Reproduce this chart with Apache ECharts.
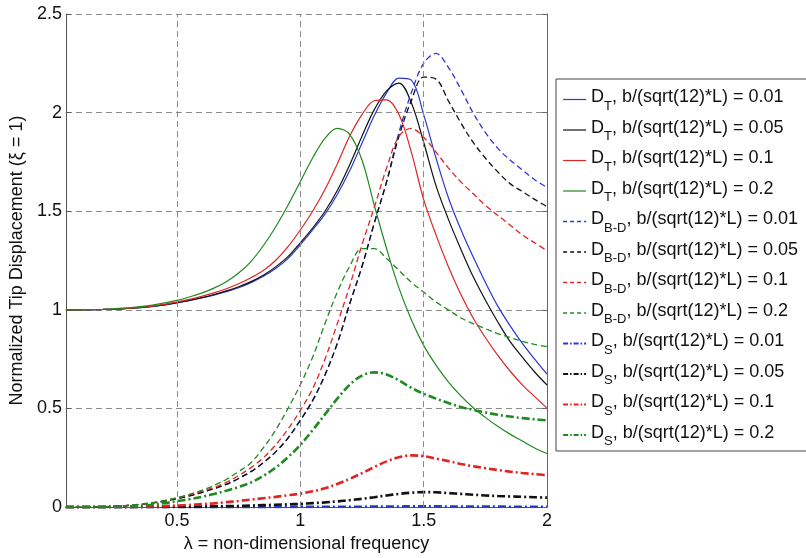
<!DOCTYPE html>
<html>
<head>
<meta charset="utf-8">
<script src="https://cdn.jsdelivr.net/npm/echarts@6/dist/echarts.min.js"></script>
<style>html,body{margin:0;padding:0;background:#fff;}#c{width:806px;height:558px;}</style>
</head>
<body>
<div id="c"></div>
<script>
// non-dimensional frequency lambda
const lambda = [0.05,0.1,0.15,0.2,0.25,0.3,0.35,0.4,0.45,0.5,0.55,0.6,0.65,0.7,0.75,0.8,0.85,0.9,0.95,1.0,
                1.05,1.1,1.15,1.2,1.25,1.3,1.35,1.4,1.45,1.5,1.55,1.6,1.65,1.7,1.75,1.8,1.85,1.9,1.95,2.0];

// D_T (total)
const DT_001 = [1.0,1.0,1.001,1.002,1.004,1.007,1.011,1.017,1.025,1.035,1.047,1.06,1.075,1.092,1.112,1.138,1.17,1.21,1.26,1.33,
                1.405,1.485,1.585,1.705,1.845,1.985,2.1,2.175,2.165,1.99,1.77,1.57,1.41,1.27,1.14,1.02,0.92,0.83,0.75,0.674];
const DT_005 = [1.0,1.0,1.001,1.002,1.004,1.007,1.011,1.017,1.025,1.036,1.048,1.062,1.078,1.096,1.117,1.143,1.176,1.218,1.27,1.34,
                1.415,1.5,1.605,1.735,1.88,2.015,2.11,2.15,2.05,1.85,1.63,1.46,1.31,1.17,1.05,0.94,0.84,0.76,0.685,0.619];
const DT_01  = [1.0,1.0,1.001,1.002,1.004,1.008,1.012,1.019,1.028,1.04,1.053,1.068,1.086,1.107,1.132,1.163,1.2,1.25,1.32,1.405,
                1.5,1.61,1.74,1.88,1.99,2.06,2.065,1.99,1.8,1.56,1.38,1.22,1.08,0.96,0.86,0.77,0.69,0.62,0.56,0.502];
const DT_02  = [1.0,1.0,1.001,1.003,1.006,1.01,1.016,1.024,1.035,1.048,1.065,1.085,1.11,1.143,1.187,1.245,1.325,1.42,1.53,1.65,
                1.77,1.87,1.92,1.89,1.76,1.53,1.31,1.11,0.95,0.82,0.72,0.635,0.565,0.505,0.455,0.41,0.37,0.335,0.3,0.272];
// D_B-D (bending)
const DBD_001 = [0,0,0.001,0.002,0.004,0.008,0.013,0.02,0.03,0.043,0.057,0.074,0.093,0.115,0.145,0.18,0.225,0.28,0.35,0.44,
                 0.54,0.67,0.83,1.03,1.22,1.44,1.65,1.9,2.1,2.25,2.3,2.23,2.12,2.0,1.9,1.82,1.76,1.71,1.66,1.621];
const DBD_005 = [0,0,0.001,0.002,0.004,0.008,0.013,0.02,0.03,0.043,0.057,0.074,0.093,0.115,0.145,0.18,0.225,0.28,0.35,0.44,
                 0.54,0.67,0.83,1.03,1.22,1.44,1.65,1.88,2.06,2.18,2.17,2.06,1.95,1.85,1.77,1.7,1.64,1.6,1.56,1.524];
const DBD_01  = [0,0,0.001,0.002,0.004,0.008,0.013,0.021,0.032,0.046,0.062,0.08,0.1,0.125,0.16,0.2,0.25,0.315,0.395,0.49,
                 0.6,0.75,0.93,1.12,1.33,1.52,1.72,1.88,1.92,1.875,1.8,1.72,1.65,1.59,1.53,1.48,1.43,1.38,1.34,1.30];
const DBD_02  = [0,0,0.001,0.002,0.005,0.009,0.015,0.023,0.034,0.048,0.065,0.085,0.11,0.14,0.18,0.225,0.3,0.39,0.5,0.62,
                 0.76,0.93,1.09,1.22,1.31,1.31,1.26,1.2,1.14,1.09,1.04,1.0,0.96,0.93,0.905,0.88,0.86,0.84,0.825,0.813];
// D_S (shear)
const DS_001 = [0,0,0,0,0,0,0,0,0,0,0,0,0,0,0,0,0,0.001,0.001,0.001,
                0.001,0.002,0.002,0.002,0.002,0.003,0.003,0.003,0.004,0.004,0.004,0.003,0.003,0.003,0.003,0.003,0.002,0.002,0.002,0.002];
const DS_005 = [0,0,0,0,0,0,0,0.001,0.001,0.002,0.002,0.003,0.004,0.005,0.006,0.008,0.01,0.012,0.014,0.016,
                0.02,0.024,0.029,0.035,0.042,0.05,0.059,0.067,0.073,0.076,0.075,0.071,0.067,0.063,0.059,0.056,0.054,0.052,0.05,0.048];
const DS_01  = [0,0,0,0,0.001,0.001,0.002,0.003,0.005,0.008,0.011,0.015,0.019,0.025,0.031,0.038,0.045,0.052,0.06,0.068,
                0.08,0.095,0.117,0.143,0.172,0.203,0.232,0.253,0.262,0.258,0.246,0.233,0.219,0.207,0.197,0.188,0.18,0.173,0.167,0.162];
const DS_02  = [0,0,0,0.001,0.002,0.004,0.007,0.012,0.02,0.03,0.04,0.052,0.066,0.083,0.102,0.125,0.158,0.2,0.253,0.315,
                0.39,0.47,0.55,0.62,0.667,0.683,0.672,0.642,0.605,0.575,0.55,0.528,0.508,0.493,0.48,0.468,0.459,0.451,0.445,0.44];

const ratios = ['0.01','0.05','0.1','0.2'];
const xTicks = [0.5, 1, 1.5, 2];

const FONT = '"Liberation Sans", Arial, Helvetica, sans-serif';
const colors = ['#2b35d8', '#111111', '#e02424', '#1f8a1f'];

const groups = [
  {sub: 'T',   data: [DT_001, DT_005, DT_01, DT_02],     type: 'solid',      width: 1.2, legendType: 'solid',       legendWidth: 1.2},
  {sub: 'B-D', data: [DBD_001, DBD_005, DBD_01, DBD_02], type: [6, 3.5],     width: 1.3, legendType: [4, 3],        legendWidth: 1.3},
  {sub: 'S',   data: [DS_001, DS_005, DS_01, DS_02],     type: [8, 3, 2, 3], width: 2.6, legendType: [5, 2, 1.5, 2], legendWidth: 2.2}
];

const series = [];
const legendData = [];
groups.forEach(g => {
  g.data.forEach((arr, i) => {
    const name = '{m|D}{s|' + g.sub + '}{m|, b/(sqrt(12)*L) = ' + ratios[i] + '}';
    legendData.push({
      name: name,
      itemStyle: {opacity: 0},
      lineStyle: {color: colors[i], width: g.legendWidth, type: g.legendType}
    });
    series.push({
      name: name,
      type: 'line',
      symbol: 'none',
      smooth: 0.35,
      z: 3,
      data: lambda.map((x, k) => [x, arr[k]]),
      lineStyle: {color: colors[i], width: g.width, type: g.type},
      itemStyle: {color: colors[i]},
      emphasis: {disabled: true}
    });
  });
});

// vertical grid lines via markLine on a hidden helper series
series.push({
  name: 'grid',
  type: 'line',
  symbol: 'none',
  z: 1,
  data: [[lambda[0], 0]],
  lineStyle: {opacity: 0},
  markLine: {
    silent: true,
    symbol: ['none', 'none'],
    label: {show: false},
    lineStyle: {color: '#8a8a8a', width: 1, type: [6, 4]},
    emphasis: {disabled: true},
    data: xTicks.slice(0, 3).map(v => ({xAxis: v}))
  }
});

const chart = echarts.init(document.getElementById('c'), null, {renderer: 'canvas'});
chart.setOption({
  animation: false,
  backgroundColor: '#ffffff',
  textStyle: {fontFamily: FONT},
  grid: {left: 62, top: 14, right: 259, bottom: 45, containLabel: false},
  xAxis: {
    type: 'value',
    min: lambda[0], max: 2,
    name: 'λ = non-dimensional frequency',
    nameLocation: 'middle',
    nameGap: 24,
    nameTextStyle: {fontSize: 18, color: '#111', fontFamily: FONT},
    axisLine: {show: true, onZero: false, lineStyle: {color: '#555', width: 1}},
    axisTick: {show: true, inside: true, length: 5, customValues: xTicks, lineStyle: {color: '#555'}},
    axisLabel: {show: true, customValues: xTicks, fontSize: 18, color: '#111', margin: 5, fontFamily: FONT,
                formatter: v => String(v)},
    splitLine: {show: false}
  },
  yAxis: [{
    type: 'value',
    min: 0, max: 2.5, interval: 0.5,
    name: 'Normalized Tip Displacement (ξ = 1)',
    nameLocation: 'middle',
    nameGap: 34,
    nameTextStyle: {fontSize: 18, color: '#111', fontFamily: FONT},
    axisLine: {show: true, lineStyle: {color: '#555', width: 1}},
    axisTick: {show: true, inside: true, length: 5, lineStyle: {color: '#555'}},
    axisLabel: {fontSize: 18, color: '#111', margin: 4, fontFamily: FONT, formatter: v => String(v)},
    splitLine: {show: true, lineStyle: {color: '#8a8a8a', width: 1, type: [6, 4]}}
  }, {
    type: 'value',
    position: 'right',
    min: 0, max: 2.5, interval: 0.5,
    axisLine: {show: true, lineStyle: {color: '#666', width: 1}},
    axisTick: {show: true, inside: true, length: 5, lineStyle: {color: '#666'}},
    axisLabel: {show: false},
    splitLine: {show: false}
  }],
  legend: {
    show: true,
    data: legendData,
    orient: 'vertical',
    left: 556,
    top: 79,
    padding: [9.5, 40, 3, 6],
    itemGap: 6.5,
    itemWidth: 23,
    itemHeight: 14,
    backgroundColor: '#ffffff',
    borderColor: '#444',
    borderWidth: 1,
    selectedMode: false,
    itemStyle: {opacity: 0},
    textStyle: {
      fontFamily: FONT, color: '#111', fontSize: 18,
      rich: {
        m: {fontSize: 18, lineHeight: 22, verticalAlign: 'top', fontFamily: FONT, color: '#111'},
        s: {fontSize: 13, lineHeight: 14, padding: [11, 0, 0, 0], verticalAlign: 'top', fontFamily: FONT, color: '#111'}
      }
    }
  },
  series: series
});
</script>
</body>
</html>
